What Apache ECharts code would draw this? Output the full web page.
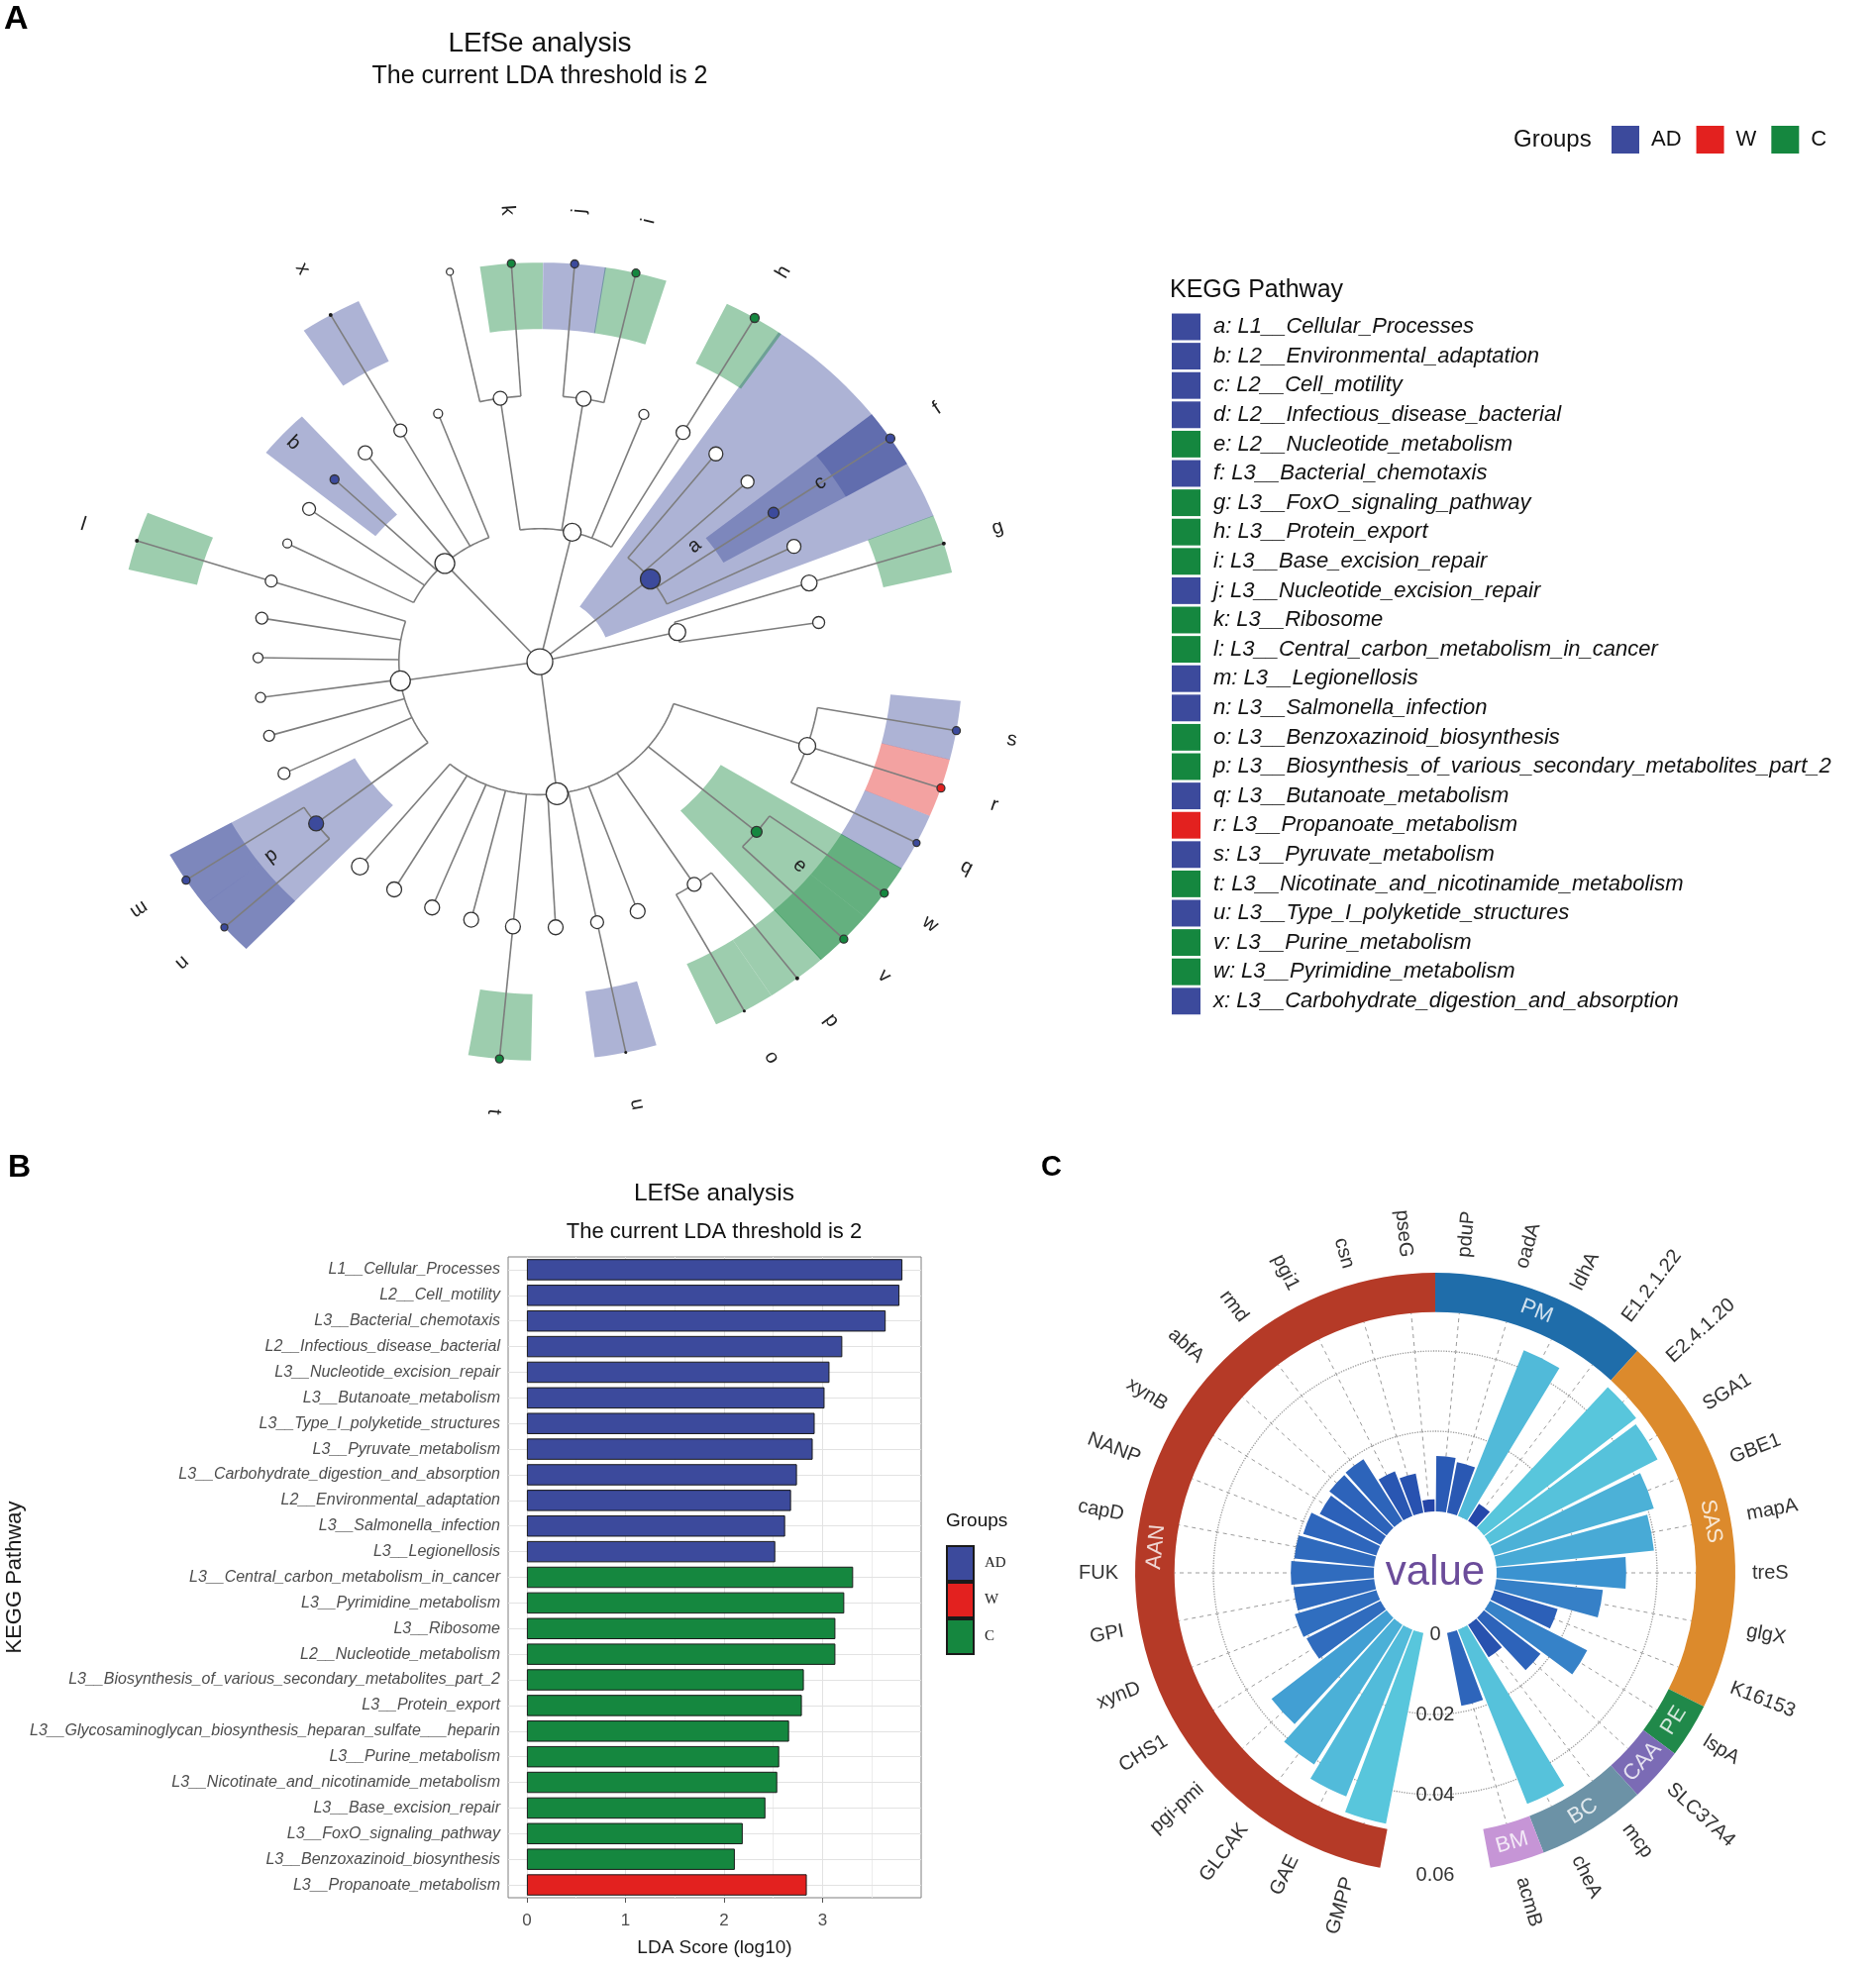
<!DOCTYPE html>
<html>
<head>
<meta charset="utf-8">
<script src="https://cdn.jsdelivr.net/npm/echarts@6/dist/echarts.min.js"></script>
<style>html,body{margin:0;padding:0;background:#fff}#c{width:1894px;height:1991px}</style>
</head>
<body>
<div id="c"></div>
<script>
// ---------------- DATA ----------------
// Panel A cladogram nodes: [id, parent, level, angle (deg), group, abundance]
const treeNodes = [
  ['root','',0,0,'',26],
  ['P1','root',1,12.84,'',17],
  ['a','root',1,38.4,'AD',20],
  ['P2','root',1,76.75,'',18],
  ['P3','root',1,132.4,'',20],
  ['P4','root',1,188.3,'',20],
  ['P5','root',1,277.0,'',22],
  ['n8','P1',2,8.47,'',12],
  ['G2','P1',2,17.21,'',16],
  ['n26','a',2,25.67,'',14],
  ['c','a',2,34.02,'AD',11],
  ['n43','a',2,42.55,'',13],
  ['n51','a',2,51.36,'',14],
  ['H2','P2',2,59.47,'',14],
  ['n68','P2',2,68.36,'',10],
  ['IJ','P2',2,81.08,'',15],
  ['K2','P2',2,98.08,'',14],
  ['n111','P3',2,111.16,'',9],
  ['X2','P3',2,119.66,'',13],
  ['n128','P3',2,128.28,'',14],
  ['b','P3',2,136.75,'AD',9],
  ['n145','P3',2,144.95,'',13],
  ['n154','P3',2,153.61,'',9],
  ['L2','P4',2,162.36,'',12],
  ['n171','P4',2,170.58,'',12],
  ['n179','P4',2,179.15,'',10],
  ['n188','P4',2,187.73,'',10],
  ['n196','P4',2,196.17,'',11],
  ['n205','P4',2,204.84,'',12],
  ['d','P4',2,217.47,'AD',15],
  ['n230','P5',2,230.33,'',17],
  ['n239','P5',2,238.89,'',15],
  ['n248','P5',2,247.53,'',15],
  ['n256','P5',2,255.9,'',15],
  ['T2','P5',2,264.52,'',15],
  ['n273','P5',2,273.21,'',15],
  ['U2','P5',2,281.72,'',13],
  ['n290','P5',2,290.3,'',15],
  ['OP','P5',2,303.2,'',14],
  ['e','P5',2,320.25,'C',11],
  ['QRS','P5',2,341.53,'',17],
  ['g','G2',3,17.21,'C',4],
  ['f','c',3,34.02,'AD',9],
  ['h','H2',3,59.47,'C',9],
  ['i','IJ',3,76.87,'C',8],
  ['j','IJ',3,85.28,'AD',8],
  ['k','K2',3,93.87,'C',8],
  ['n102','K2',3,102.29,'',7],
  ['x','X2',3,119.66,'AD',4],
  ['l','L2',3,162.36,'C',4],
  ['m','d',3,213.2,'AD',8],
  ['n','d',3,221.74,'AD',7],
  ['t','T2',3,264.52,'C',8],
  ['u','U2',3,281.72,'AD',3],
  ['o','OP',3,298.91,'C',3],
  ['p','OP',3,307.49,'C',4],
  ['v','e',3,315.95,'C',8],
  ['w','e',3,324.54,'C',8],
  ['q','QRS',3,332.98,'AD',7],
  ['r','QRS',3,341.53,'W',8],
  ['s','QRS',3,350.05,'AD',8]
];

// KEGG legend
const keggLetters = ['a','b','c','d','e','f','g','h','i','j','k','l','m','n','o','p','q','r','s','t','u','v','w','x'];
const keggNames = ['L1__Cellular_Processes','L2__Environmental_adaptation','L2__Cell_motility','L2__Infectious_disease_bacterial','L2__Nucleotide_metabolism','L3__Bacterial_chemotaxis','L3__FoxO_signaling_pathway','L3__Protein_export','L3__Base_excision_repair','L3__Nucleotide_excision_repair','L3__Ribosome','L3__Central_carbon_metabolism_in_cancer','L3__Legionellosis','L3__Salmonella_infection','L3__Benzoxazinoid_biosynthesis','L3__Biosynthesis_of_various_secondary_metabolites_part_2','L3__Butanoate_metabolism','L3__Propanoate_metabolism','L3__Pyruvate_metabolism','L3__Nicotinate_and_nicotinamide_metabolism','L3__Type_I_polyketide_structures','L3__Purine_metabolism','L3__Pyrimidine_metabolism','L3__Carbohydrate_digestion_and_absorption'];
const keggGroups = ['AD','AD','AD','AD','C','AD','C','C','C','AD','C','C','AD','AD','C','C','AD','W','AD','C','AD','C','C','AD'];

// Panel B
const groupNames = ['AD','W','C'];
const ldaNames = ['L1__Cellular_Processes','L2__Cell_motility','L3__Bacterial_chemotaxis','L2__Infectious_disease_bacterial','L3__Nucleotide_excision_repair','L3__Butanoate_metabolism','L3__Type_I_polyketide_structures','L3__Pyruvate_metabolism','L3__Carbohydrate_digestion_and_absorption','L2__Environmental_adaptation','L3__Salmonella_infection','L3__Legionellosis','L3__Central_carbon_metabolism_in_cancer','L3__Pyrimidine_metabolism','L3__Ribosome','L2__Nucleotide_metabolism','L3__Biosynthesis_of_various_secondary_metabolites_part_2','L3__Protein_export','L3__Glycosaminoglycan_biosynthesis_heparan_sulfate___heparin','L3__Purine_metabolism','L3__Nicotinate_and_nicotinamide_metabolism','L3__Base_excision_repair','L3__FoxO_signaling_pathway','L3__Benzoxazinoid_biosynthesis','L3__Propanoate_metabolism'];
const ldaValues = [3.81,3.78,3.64,3.20,3.07,3.02,2.92,2.90,2.74,2.68,2.62,2.52,3.31,3.22,3.13,3.13,2.81,2.79,2.66,2.56,2.54,2.42,2.19,2.11,2.84];
const ldaGroups = ['AD','AD','AD','AD','AD','AD','AD','AD','AD','AD','AD','AD','C','C','C','C','C','C','C','C','C','C','C','C','W'];
const ldaTicks = [0,1,2,3];

// Panel C (clockwise from the bottom gap)
const geneCats = ['','GMPP','GAE','GLCAK','pgi-pmi','CHS1','xynD','GPI','FUK','capD','NANP','xynB','abfA','rmd','pgi1','csn','pseG','pduP','oadA','ldhA','E1.2.1.22','E2.4.1.20','SGA1','GBE1','mapA','treS','glgX','K16153','lspA','SLC37A4','mcp','cheA','acmB',' '];
const geneValues = ['-',0.0484,0.0447,0.0412,0.0362,0.0207,0.0212,0.0202,0.0207,0.0200,0.0190,0.0170,0.0180,0.0182,0.0119,0.0099,0.0030,0.0138,0.0128,0.0444,0.0051,0.0479,0.0469,0.0415,0.0395,0.0323,0.0267,0.0165,0.0272,0.0178,0.0096,0.0467,0.0185,'-'];
const pathNames = ['AAN','PM','SAS','PE','CAA','BC','BM'];
const pathFirst = ['GMPP','pduP','E2.4.1.20','lspA','SLC37A4','mcp','acmB'];
const pathLast  = ['pseG','E1.2.1.22','K16153','lspA','SLC37A4','cheA','acmB'];

// ---------------- STYLE ----------------
const FONT = "'Liberation Sans', Arial, Helvetica, sans-serif";
const GROUP_COLORS = {AD:'#3C4A9C', W:'#E3211F', C:'#15873F'};
const PATH_COLORS = {AAN:'#B53A27', PM:'#1F6DAA', SAS:'#DC8A2C', PE:'#20894A', CAA:'#7B6BB5', BC:'#6C92A6', BM:'#C695D6'};
const C_STOPS = ['#2444A7','#2D63BA','#3C95D1','#58C6DC'];
const HALF_SLOT = 4.28;
const RING_IN = 0.0497, RING_OUT = 0.0595, RING_MID = 0.0546, LABEL_R = 0.0637;

// ---------------- TREE ----------------
const nodes = {};
const allNodes = treeNodes.map(t => {
  const n = {id:t[0], parent:t[1], level:t[2], ang:t[3], group:t[4], size:t[5], children:[]};
  nodes[n.id] = n; return n;
});
allNodes.forEach(n => { if (n.parent) nodes[n.parent].children.push(n); });
const internalNodes = allNodes.filter(n => n.children.length);
function leafAngles(n) { return n.children.length ? n.children.flatMap(leafAngles) : [n.ang]; }
function cp(api, r, deg) { const t = deg * Math.PI / 180; return api.coord([r * Math.cos(t), r * Math.sin(t)]); }
function arc(api, r, a0, a1) {
  const k = Math.max(1, Math.ceil(Math.abs(a1 - a0) / 1.5)); const pts = [];
  for (let i = 0; i <= k; i++) pts.push(cp(api, r, a0 + (a1 - a0) * i / k));
  return pts;
}
function labelRot(deg) { return (deg > 90 && deg < 180) ? deg - 180 : deg; }

const chart = echarts.init(document.getElementById('c'), null, {width:1894, height:1991});

const cladX = {gridIndex:0, type:'value', min:-3.8, max:3.8, show:false};
const cladY = {gridIndex:0, type:'value', min:-3.8, max:3.8, show:false};

const lineStyleGrey = () => ({stroke:'#7d7d7d', lineWidth:1.6, fill:'none'});

const series = [];
// wedges
series.push({
  type:'custom', name:'_wedge', xAxisIndex:0, yAxisIndex:0, silent:true, z:1,
  data: keggLetters.map((l, i) => [i, 0]),
  renderItem(params, api) {
    const node = nodes[keggLetters[api.value(0)]];
    const angs = leafAngles(node);
    const a0 = Math.min(...angs) - HALF_SLOT, a1 = Math.max(...angs) + HALF_SLOT;
    const r0 = node.level - 0.5;
    const r1 = (node.level === 2 && node.children.length === 0) ? node.level + 0.5 : 3;
    const pts = arc(api, r1, a0, a1).concat(arc(api, r0, a1, a0));
    return {type:'polygon', shape:{points:pts}, style:{fill:GROUP_COLORS[node.group], opacity:0.42, stroke:'none'}};
  }
});
// edges
series.push({
  type:'custom', name:'_edges', xAxisIndex:0, yAxisIndex:0, silent:true, z:2,
  data: internalNodes.map((n, i) => [i, 0]),
  renderItem(params, api) {
    const node = internalNodes[api.value(0)];
    const kids = node.children; const ch = [];
    if (node.level === 0) {
      kids.forEach(k => ch.push({type:'polyline', shape:{points:[cp(api, 0, 0), cp(api, 1, k.ang)]}, style:lineStyleGrey()}));
    } else {
      const angs = kids.map(k => k.ang);
      if (kids.length > 1) ch.push({type:'polyline', shape:{points:arc(api, node.level, Math.min(...angs), Math.max(...angs))}, style:lineStyleGrey()});
      kids.forEach(k => ch.push({type:'polyline', shape:{points:[cp(api, node.level, k.ang), cp(api, node.level + 1, k.ang)]}, style:lineStyleGrey()}));
    }
    return {type:'group', children:ch};
  }
});
// nodes
series.push({
  type:'custom', name:'_nodes', xAxisIndex:0, yAxisIndex:0, silent:true, z:3,
  data: allNodes.map((n, i) => [i, 0]),
  renderItem(params, api) {
    const n = allNodes[api.value(0)];
    const p = cp(api, n.level, n.ang);
    const tiny = n.size <= 4;
    return {type:'circle', shape:{cx:p[0], cy:p[1], r:n.size / 2},
      style:{fill: n.group ? (tiny ? '#1b1b1b' : GROUP_COLORS[n.group]) : '#ffffff', stroke: tiny ? 'none' : '#333', lineWidth:1.3}};
  }
});
// labels
series.push({
  type:'custom', name:'_labels', xAxisIndex:0, yAxisIndex:0, silent:true, z:4,
  data: keggLetters.map((l, i) => [i, 0]),
  renderItem(params, api) {
    const node = nodes[keggLetters[api.value(0)]];
    const r = node.level === 3 ? 3.4 : node.level + 0.4;
    const p = cp(api, r, node.ang);
    return {type:'text', x:p[0], y:p[1], rotation:labelRot(node.ang) * Math.PI / 180,
      style:{text:node.id, fontSize:20, fontFamily:FONT, fill:'#222', align:'center', verticalAlign:'middle'}};
  }
});
// KEGG legend squares
series.push({
  type:'bar', name:'_kegg', xAxisIndex:1, yAxisIndex:1, silent:true, barCategoryGap:'9%',
  data: keggGroups.map(g => ({value:1, itemStyle:{color:GROUP_COLORS[g]}}))
});
// Panel B grid lines
const bMarks = [];
[0,1,2,3].forEach(v => bMarks.push({xAxis:v, lineStyle:{color:'#e2e2e2', width:1}}));
[0.5,1.5,2.5,3.5].forEach(v => bMarks.push({xAxis:v, lineStyle:{color:'#ececec', width:1}}));
ldaNames.forEach((n, i) => bMarks.push({yAxis:i, lineStyle:{color:'#e2e2e2', width:1}}));
series.push({
  type:'line', name:'_bgrid', xAxisIndex:2, yAxisIndex:2, data:[], silent:true, z:1,
  markLine:{silent:true, symbol:'none', animation:false, label:{show:false}, lineStyle:{type:'solid'}, data:bMarks}
});
// Panel B bars per group
groupNames.forEach(g => {
  series.push({
    type:'bar', name:g, xAxisIndex:2, yAxisIndex:2, z:10, barGap:'-100%', barCategoryGap:'17%',
    itemStyle:{color:GROUP_COLORS[g], borderColor:'#1a1a1a', borderWidth:1},
    data: ldaValues.map((v, i) => ldaGroups[i] === g ? v : '-')
  });
});
// Panel C dashed radial lines
series.push({
  type:'custom', name:'_cgrid', coordinateSystem:'polar', polarIndex:0, silent:true, z:2,
  data: geneCats.map((c, i) => [i, 0]).filter(d => geneCats[d[0]].trim() !== ''),
  renderItem(params, api) {
    const i = api.value(0);
    const p0 = api.coord([0, i]), p1 = api.coord([RING_IN, i]);
    return {type:'line', shape:{x1:p0[0], y1:p0[1], x2:p1[0], y2:p1[1]}, style:{stroke:'#9b9b9b', lineWidth:1, lineDash:[4,4]}};
  }
});
// Panel C bars
series.push({
  type:'bar', name:'_cbars', coordinateSystem:'polar', polarIndex:0, z:5, silent:true, barCategoryGap:'10%',
  itemStyle:{color: p => echarts.color.lerp(Math.min(1, Math.max(0, (p.value - 0.003) / (0.048 - 0.003))), C_STOPS)},
  data: geneValues
});
// Panel C ring
series.push({
  type:'custom', name:'_ring', coordinateSystem:'polar', polarIndex:0, silent:true, z:6,
  data: pathNames.map((n, i) => [i, 0]),
  renderItem(params, api) {
    const k = api.value(0);
    const cx = params.coordSys.cx, cy = params.coordSys.cy;
    const ang = i => { const p = api.coord([RING_IN, i]); return Math.atan2(p[1] - cy, p[0] - cx); };
    const rad = v => { const p = api.coord([v, 1]); return Math.hypot(p[0] - cx, p[1] - cy); };
    let step = ang(2) - ang(1);
    while (step > Math.PI) step -= 2 * Math.PI; while (step < -Math.PI) step += 2 * Math.PI;
    const i0 = geneCats.indexOf(pathFirst[k]), i1 = geneCats.indexOf(pathLast[k]);
    const a0 = ang(i0) - step / 2; let a1 = ang(i1) + step / 2;
    while (a1 < a0) a1 += 2 * Math.PI;
    const mid = (a0 + a1) / 2, rm = rad(RING_MID);
    const tx = cx + rm * Math.cos(mid), ty = cy + rm * Math.sin(mid);
    let th = -mid * 180 / Math.PI; while (th > 180) th -= 360; while (th <= -180) th += 360;
    const rot = th < -10 ? th + 90 : th - 90;
    return {type:'group', children:[
      {type:'sector', shape:{cx, cy, r0:rad(RING_IN), r:rad(RING_OUT), startAngle:a0, endAngle:a1, clockwise:true}, style:{fill:PATH_COLORS[pathNames[k]]}},
      {type:'text', x:tx, y:ty, rotation:rot * Math.PI / 180, style:{text:pathNames[k], fontSize:22, fontFamily:FONT, fill:'rgba(255,255,255,0.8)', align:'center', verticalAlign:'middle'}}
    ]};
  }
});
// Panel C category labels
series.push({
  type:'custom', name:'_clabels', coordinateSystem:'polar', polarIndex:0, silent:true, z:7,
  data: geneCats.map((c, i) => [i, 0]).filter(d => geneCats[d[0]].trim() !== ''),
  renderItem(params, api) {
    const i = api.value(0);
    const cx = params.coordSys.cx, cy = params.coordSys.cy;
    const p = api.coord([LABEL_R, i]);
    const th = Math.atan2(cy - p[1], p[0] - cx) * 180 / Math.PI;
    let rot, align;
    if (th > -90 && th < 90) { rot = th; align = 'left'; }
    else { rot = th > 0 ? th - 180 : th + 180; align = 'right'; }
    return {type:'text', x:p[0], y:p[1], rotation:rot * Math.PI / 180,
      style:{text:geneCats[i], fontSize:20, fontFamily:FONT, fill:'#333', align, verticalAlign:'middle'}};
  }
});

function T(text, left, top, size, extra) {
  return Object.assign({text, left, top, padding:0, textStyle:Object.assign({fontFamily:FONT, fontWeight:'normal', color:'#111', fontSize:size}, (extra && extra.ts) || {})}, extra && extra.o || {});
}

const option = {
  animation:false,
  backgroundColor:'#ffffff',
  title:[
    T('A', 4, 3, 34, {ts:{fontWeight:'bold', color:'#000'}}),
    T('LEfSe analysis', 545, 44, 28, {o:{textAlign:'center', textVerticalAlign:'middle'}}),
    T('The current LDA threshold is 2', 545, 77, 25, {o:{textAlign:'center', textVerticalAlign:'middle'}}),
    T('Groups', 1528, 141, 24, {o:{textVerticalAlign:'middle'}}),
    T('KEGG Pathway', 1181, 293, 25, {o:{textVerticalAlign:'middle'}}),
    T('B', 8, 1163, 32, {ts:{fontWeight:'bold', color:'#000'}}),
    T('LEfSe analysis', 721, 1205, 24.5, {o:{textAlign:'center', textVerticalAlign:'middle'}}),
    T('The current LDA threshold is 2', 721, 1244, 22, {o:{textAlign:'center', textVerticalAlign:'middle'}}),
    T('Groups', 955, 1536, 19, {o:{textVerticalAlign:'middle'}}),
    T('C', 1051, 1164, 29, {ts:{fontWeight:'bold', color:'#000'}}),
    T('value', 1449, 1588, 42, {o:{textAlign:'center', textVerticalAlign:'middle'}, ts:{color:'#6B4C9A'}})
  ],
  legend:[
    {data:groupNames, left:1627, top:127, orient:'horizontal', itemWidth:28, itemHeight:28, itemGap:15, icon:'rect', padding:0, selectedMode:false,
     itemStyle:{borderWidth:0}, textStyle:{fontSize:22, fontFamily:FONT, color:'#111', padding:[0,0,0,7]}},
    {data:groupNames, left:955, top:1560, orient:'vertical', itemWidth:27, itemHeight:35, itemGap:0, icon:'rect', padding:0, selectedMode:false,
     textStyle:{fontSize:15, fontFamily:"'Liberation Serif', 'Times New Roman', serif", color:'#222', padding:[0,0,0,6]}}
  ],
  grid:[
    {left:4.3, top:157.7, width:1081.5, height:1020.7},
    {left:1183, top:315.2, width:29, height:710.4},
    {left:513, top:1269, width:417, height:647, show:true, borderColor:'#7f7f7f', borderWidth:1, backgroundColor:'rgba(0,0,0,0)'}
  ],
  xAxis:[
    cladX,
    {gridIndex:1, type:'value', min:0, max:1, show:false},
    {gridIndex:2, type:'value', min:-0.19, max:4.0,
     axisLine:{show:false}, splitLine:{show:false},
     axisTick:{show:true, customValues:ldaTicks, length:5, lineStyle:{color:'#555'}},
     axisLabel:{customValues:ldaTicks, fontSize:17, color:'#4d4d4d', margin:15, fontFamily:FONT},
     name:'LDA Score (log10)', nameLocation:'middle', nameGap:41, nameTextStyle:{fontSize:19, color:'#1a1a1a', fontFamily:FONT}}
  ],
  yAxis:[
    cladY,
    {gridIndex:1, type:'category', inverse:true, position:'right', data:keggLetters.map((l, i) => l + ': ' + keggNames[i]),
     axisLine:{show:false}, axisTick:{show:false}, splitLine:{show:false},
     axisLabel:{interval:0, margin:13, fontSize:22, fontStyle:'italic', color:'#111', fontFamily:FONT}},
    {gridIndex:2, type:'category', inverse:true, data:ldaNames,
     axisLine:{show:false}, splitLine:{show:false},
     axisTick:{show:true, alignWithLabel:true, length:5, lineStyle:{color:'#555'}},
     axisLabel:{interval:0, margin:8, fontSize:16, fontStyle:'italic', color:'#4d4d4d', fontFamily:FONT},
     name:'KEGG Pathway', nameLocation:'middle', nameRotate:90, nameGap:481, nameTextStyle:{fontSize:22, color:'#1a1a1a', fontFamily:FONT}}
  ],
  polar:[{center:[1449, 1588], radius:[62, 305]}],
  angleAxis:[{polarIndex:0, type:'category', data:geneCats, startAngle:270, clockwise:true, boundaryGap:true,
    axisLine:{show:false}, axisTick:{show:false}, axisLabel:{show:false}, splitLine:{show:false}}],
  radiusAxis:[{polarIndex:0, type:'value', min:0, max:0.06, interval:0.02,
    axisLine:{show:false}, axisTick:{show:false},
    axisLabel:{show:true, margin:0, align:'center', verticalAlign:'middle', fontSize:20, color:'#333', fontFamily:FONT,
      formatter: v => v === 0 ? '0' : String(+v.toFixed(2))},
    splitLine:{show:true, lineStyle:{color:['rgba(0,0,0,0)','#9b9b9b','#9b9b9b','rgba(0,0,0,0)'], type:'dotted', width:1.3}}}],
  series
};
chart.setOption(option);
</script>
</body>
</html>
